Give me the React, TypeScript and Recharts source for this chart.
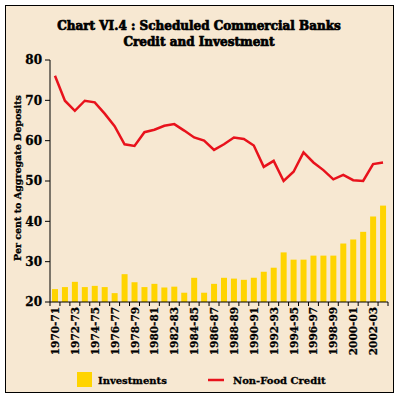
import React from 'react';
import { ComposedChart, Bar, Line, XAxis, YAxis } from 'recharts';

// Scheduled commercial banks: per cent to aggregate deposits
const years = [
  '1970-71', '1971-72', '1972-73', '1973-74', '1974-75', '1975-76', '1976-77', '1977-78',
  '1978-79', '1979-80', '1980-81', '1981-82', '1982-83', '1983-84', '1984-85', '1985-86',
  '1986-87', '1987-88', '1988-89', '1989-90', '1990-91', '1991-92', '1992-93', '1993-94',
  '1994-95', '1995-96', '1996-97', '1997-98', '1998-99', '1999-00', '2000-01', '2001-02',
  '2002-03', '2003-04',
];
const investments = [
  23.2, 23.7, 25.0, 23.7, 24.0, 23.7, 22.2, 26.9, 24.9, 23.7, 24.5, 23.6, 23.8, 22.3, 26.0, 22.3,
  24.5, 26.0, 25.8, 25.5, 26.0, 27.5, 28.5, 32.3, 30.5, 30.5, 31.5, 31.5, 31.5, 34.5, 35.5, 37.4,
  41.2, 43.9,
];
const nonFoodCredit = [
  76.1, 69.9, 67.4, 69.9, 69.5, 66.7, 63.6, 59.1, 58.7, 62.1, 62.7, 63.7, 64.1, 62.5, 60.8, 60.0,
  57.7, 59.1, 60.8, 60.4, 58.8, 53.5, 55.0, 50.0, 52.3, 57.1, 54.6, 52.7, 50.4, 51.5, 50.2, 50.0,
  54.2, 54.6,
];
const yTicks = [20, 30, 40, 50, 60, 70, 80];

const data = years.map((name, i) => ({
  name,
  investments: investments[i],
  nonFood: nonFoodCredit[i],
}));

const W = 397;
const H = 398;
const margin = { top: 60, right: 9, left: 10, bottom: 0 };
const Y_AXIS_W = 40;
const BAND = (W - margin.left - Y_AXIS_W - margin.right) / years.length;
const FONT = '"DejaVu Serif", "Liberation Serif", serif';
const BG = '#F7E8D2';

function XTick(props: any) {
  const { x, y, payload, index } = props;
  const half = BAND / 2;
  const last = index === years.length - 1;
  return (
    <g>
      <line x1={x - half} x2={x - half} y1={y} y2={y + 4} stroke="#000" />
      {last && <line x1={x + half} x2={x + half} y1={y} y2={y + 4} stroke="#000" />}
      {index % 2 === 0 && (
        <text
          transform={`translate(${x + 4},${y + 5}) rotate(-90)`}
          textAnchor="end"
          fontFamily={FONT}
          fontWeight="bold"
          fontSize={10.5}
          fill="#000"
          stroke="#000"
          strokeWidth={0.25}
        >
          {payload.value}
        </text>
      )}
    </g>
  );
}

export default function App() {
  return (
    <div style={{ position: 'absolute', left: 0, top: 0, width: W, height: H, background: '#fff' }}>
      <div
        style={{
          position: 'absolute',
          left: 5,
          top: 5,
          width: 389,
          height: 388,
          background: BG,
          border: '1px solid #000',
          boxSizing: 'border-box',
        }}
      />
      <div style={{ position: 'absolute', left: 0, top: 0 }}>
        <ComposedChart width={W} height={H} data={data} margin={margin}>
          <XAxis
            dataKey="name"
            interval={0}
            tickSize={0}
            tickMargin={0}
            tick={<XTick />}
            height={96}
            axisLine={{ stroke: '#000' }}
          />
          <YAxis
            width={Y_AXIS_W}
            domain={[20, 80]}
            ticks={yTicks}
            tickSize={5}
            tickMargin={3}
            axisLine={{ stroke: '#000' }}
            tickLine={{ stroke: '#000' }}
            tick={{ fontFamily: FONT, fontWeight: 'bold', fontSize: 12, fill: '#000', stroke: '#000', strokeWidth: 0.3 }}
          />
          <Bar dataKey="investments" fill="#FFD400" barSize={6} isAnimationActive={false} />
          <Line
            dataKey="nonFood"
            type="linear"
            stroke="#E8121C"
            strokeWidth={2.5}
            dot={false}
            isAnimationActive={false}
          />
        </ComposedChart>
      </div>
      <svg
        width={W}
        height={H}
        style={{ position: 'absolute', left: 0, top: 0, pointerEvents: 'none' }}
      >
        <g fontFamily={FONT} fontWeight="bold" fill="#000" stroke="#000" strokeWidth={0.7}>
          <text x={199} y={30} textAnchor="middle" fontSize={12}>
            Chart VI.4 : Scheduled Commercial Banks
          </text>
          <text x={199} y={46} textAnchor="middle" fontSize={12}>
            Credit and Investment
          </text>
        </g>
        <g fontFamily={FONT} fontWeight="bold" fill="#000" stroke="#000" strokeWidth={0.3}>
          <text transform="translate(21,178) rotate(-90)" textAnchor="middle" fontSize={9.5}>
            Per cent to Aggregate Deposits
          </text>
          <text x={98} y={384} fontSize={10}>
            Investments
          </text>
          <text x={233} y={384} fontSize={10}>
            Non-Food Credit
          </text>
        </g>
        <rect x={77} y={372} width={15} height={15} fill="#FFD400" />
        <line x1={208} x2={224} y1={380} y2={380} stroke="#E8121C" strokeWidth={2.5} />
      </svg>
    </div>
  );
}
